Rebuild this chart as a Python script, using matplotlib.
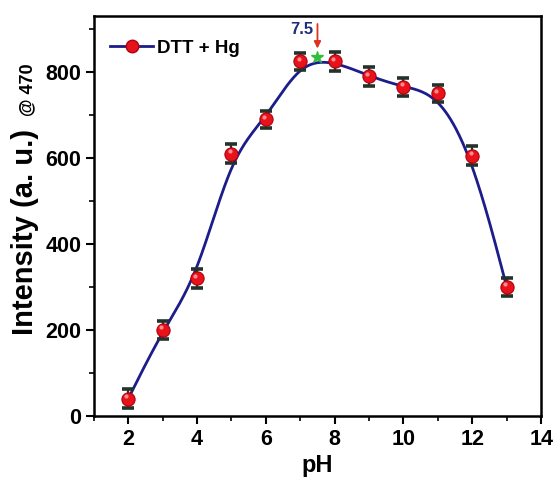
import numpy as np
import matplotlib
matplotlib.use("Agg")
import matplotlib.pyplot as plt
from matplotlib.ticker import MultipleLocator

plt.rcParams['font.family'] = ['Liberation Sans', 'DejaVu Sans']
plt.rcParams['font.weight'] = 'bold'

# pH titration of the DTT + Hg probe, emission intensity at 470 nm
ph = [2, 3, 4, 5, 6, 7, 8, 9, 10, 11, 12, 13]
intensity = [40, 200, 320, 610, 690, 825, 825, 790, 765, 750, 605, 300]
err = [22, 20, 22, 22, 20, 20, 22, 22, 20, 20, 22, 22]
optimum_ph = 7.5
optimum_label = "7.5"
series_label = "DTT + Hg"


def bspline_curve(xc, yc, per_seg=40):
    """Clamped uniform cubic B-spline using the points as control points."""
    px = np.concatenate([[xc[0]] * 2, xc, [xc[-1]] * 2]).astype(float)
    py = np.concatenate([[yc[0]] * 2, yc, [yc[-1]] * 2]).astype(float)
    t = np.linspace(0, 1, per_seg, endpoint=False)
    b0 = (1 - t) ** 3 / 6
    b1 = (3 * t ** 3 - 6 * t ** 2 + 4) / 6
    b2 = (-3 * t ** 3 + 3 * t ** 2 + 3 * t + 1) / 6
    b3 = t ** 3 / 6
    xs, ys = [], []
    for i in range(len(px) - 3):
        xs.append(b0 * px[i] + b1 * px[i + 1] + b2 * px[i + 2] + b3 * px[i + 3])
        ys.append(b0 * py[i] + b1 * py[i + 1] + b2 * py[i + 2] + b3 * py[i + 3])
    xs.append([xc[-1]])
    ys.append([yc[-1]])
    return np.concatenate(xs), np.concatenate(ys)


fig = plt.figure(figsize=(5.55, 4.86), dpi=100)
ax = fig.add_axes([0.169, 0.144, 0.806, 0.823])

xs, ys = bspline_curve(ph, intensity)
navy = '#1c1c8a'
ax.plot(xs, ys, color=navy, lw=2, zorder=2)

ax.errorbar(ph, intensity, yerr=err, fmt='none', ecolor='#24332a',
            elinewidth=1.6, capsize=4.5, capthick=2.6, zorder=3)
ax.plot(ph, intensity, 'o', ms=9.5, mfc='#e8121a', mec='#b00010', mew=0.8, zorder=4)
ax.plot(np.array(ph) - 0.05, np.array(intensity) + 6, 'o', ms=3,
        mfc='#ff9a9a', mec='none', alpha=0.9, zorder=5)

# legend entry
ax.plot([], [], '-o', color=navy, lw=2, ms=9, mfc='#e8121a', mec='#b00010',
        label=series_label)
ax.legend(loc='center left', bbox_to_anchor=(0.02, 0.92), frameon=False,
          fontsize=13.5, handlelength=2.3, handletextpad=0.2, borderaxespad=0)

# optimum pH marker
ax.plot([optimum_ph], [835], '*', ms=9, color='#2fbf3a', zorder=6)
ax.annotate('', xy=(optimum_ph, 848), xytext=(optimum_ph, 918),
            arrowprops=dict(arrowstyle='-|>', color='#e03020', lw=1.3,
                            mutation_scale=10))
ax.text(optimum_ph - 0.12, 898, optimum_label, ha='right', va='center',
        fontsize=12, fontweight='bold', color='#1f2f7a')

ax.set_xlim(1, 14)
ax.set_ylim(0, 930)
ax.xaxis.set_major_locator(MultipleLocator(2))
ax.xaxis.set_minor_locator(MultipleLocator(1))
ax.yaxis.set_major_locator(MultipleLocator(200))
ax.yaxis.set_minor_locator(MultipleLocator(100))
ax.tick_params(which='major', direction='out', length=6, width=1.5,
               labelsize=15.5, pad=3)
ax.tick_params(which='minor', direction='out', length=3.5, width=1.2)
for lab in ax.get_xticklabels() + ax.get_yticklabels():
    lab.set_fontweight('bold')
for sp in ax.spines.values():
    sp.set_linewidth(1.8)

ax.set_xlabel('pH', fontsize=17, fontweight='bold', labelpad=3)
fig.text(0.045, 0.522, 'Intensity (a. u.)', rotation=90, ha='center', va='center',
         fontsize=21, fontweight='bold')
fig.text(0.050, 0.815, '@ 470', rotation=90, ha='center', va='center',
         fontsize=13, fontweight='bold')

fig.savefig('out.png', dpi=100)
